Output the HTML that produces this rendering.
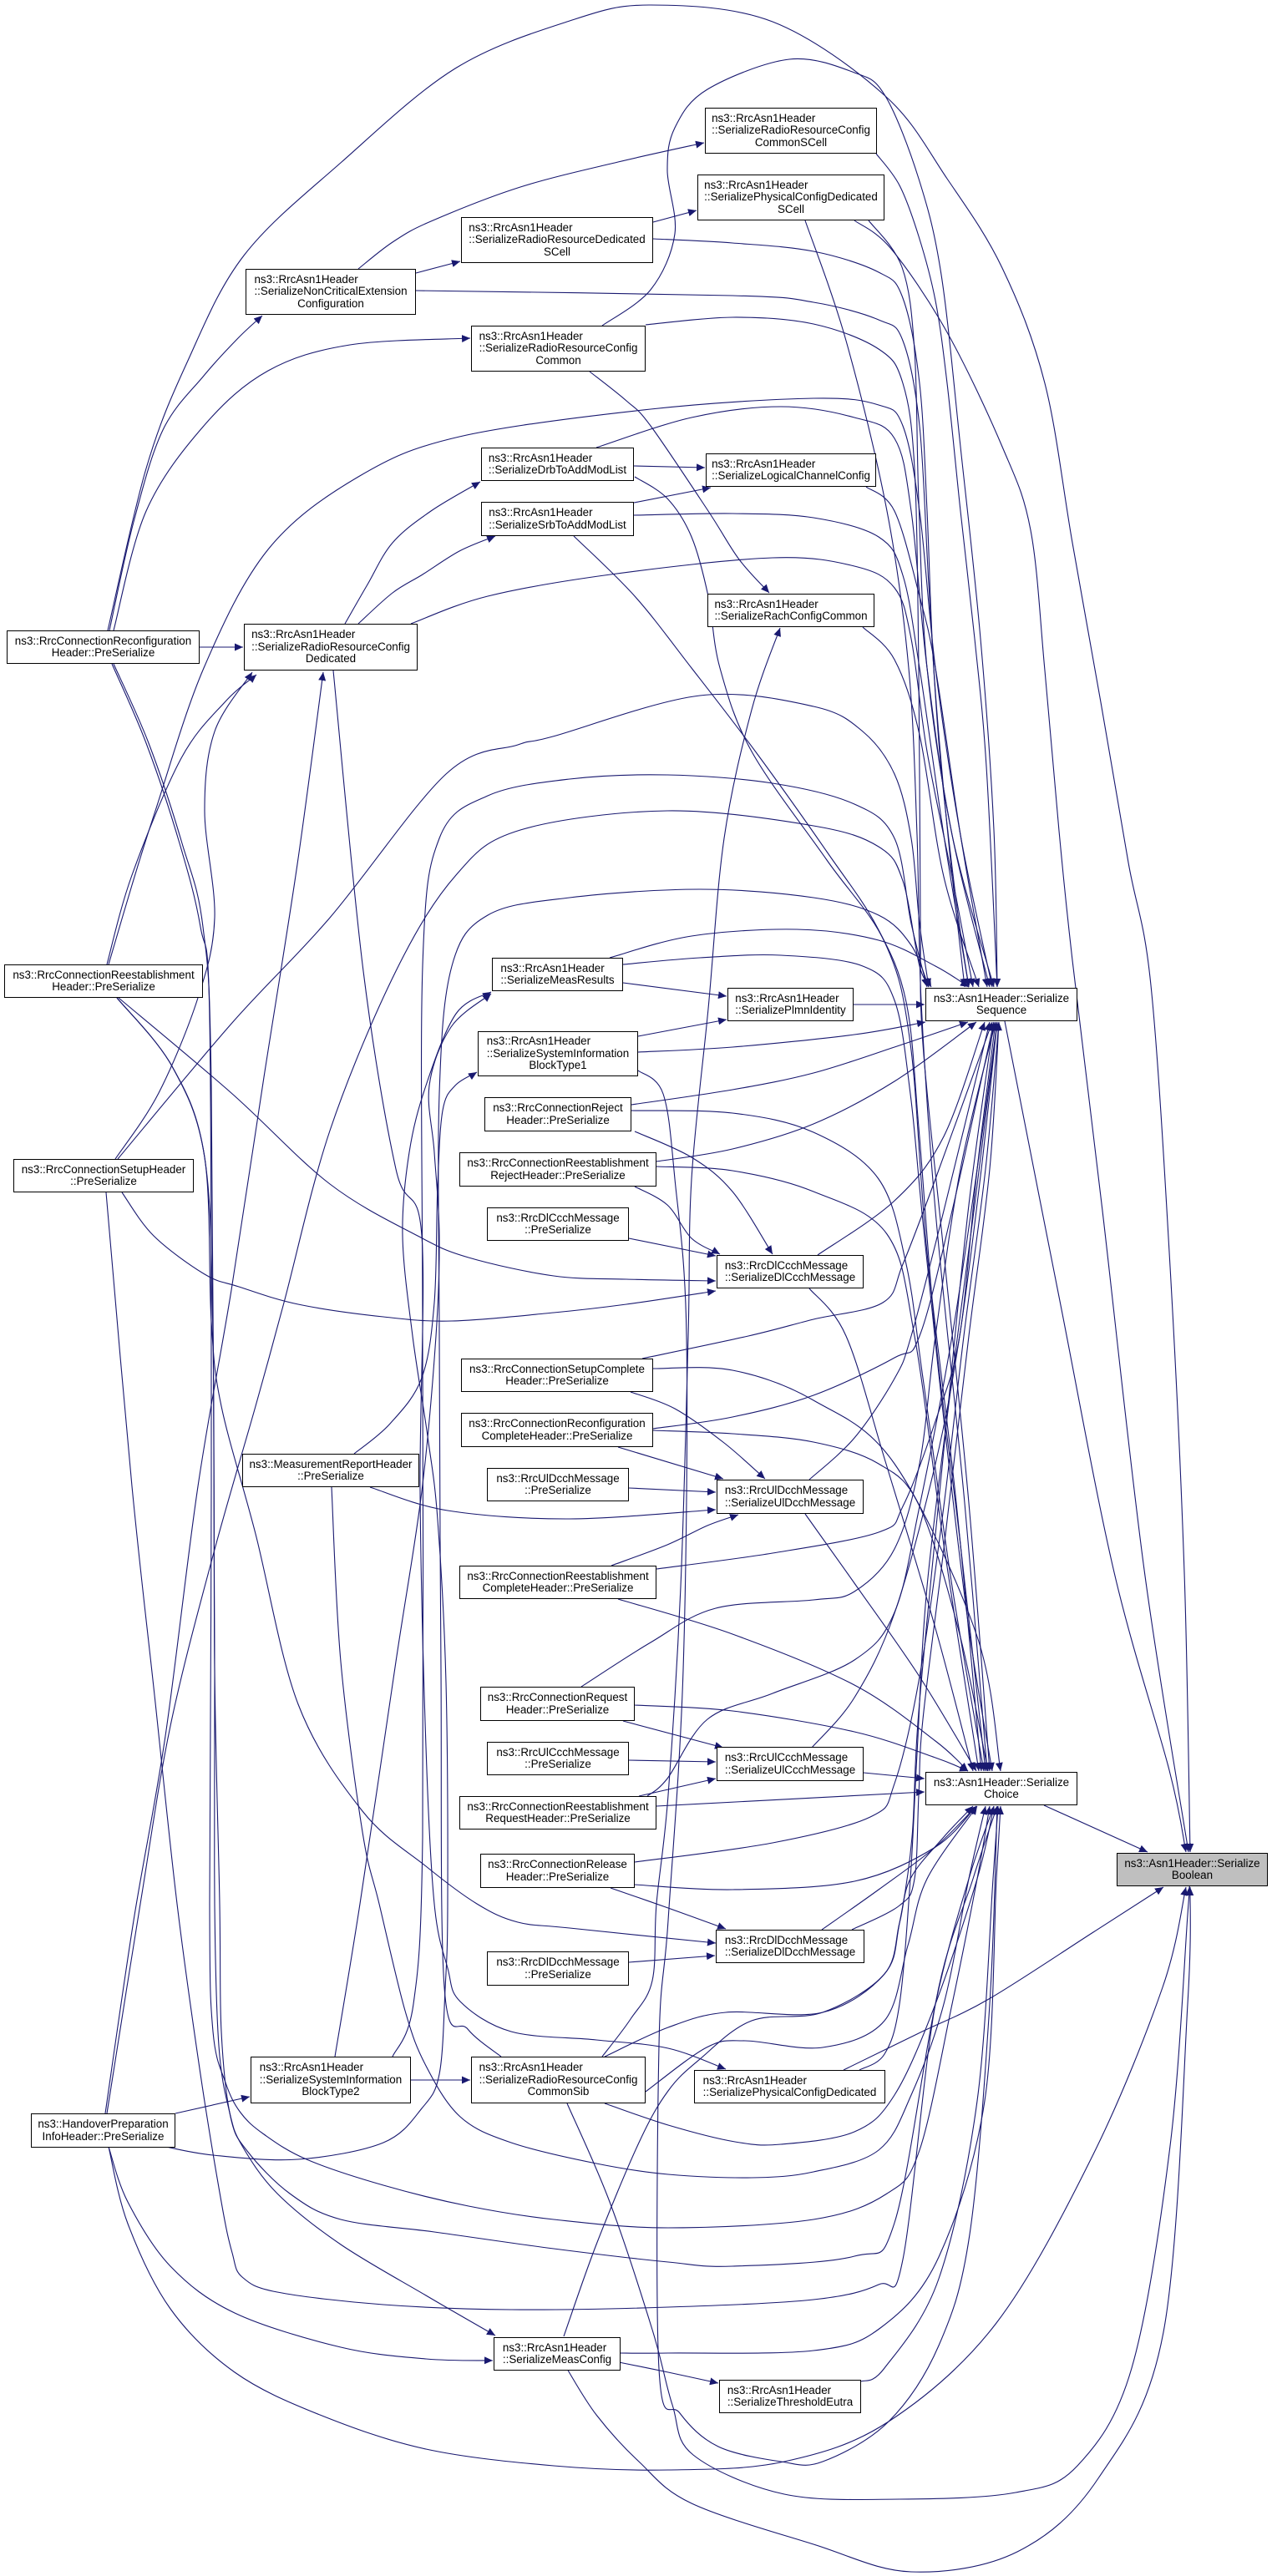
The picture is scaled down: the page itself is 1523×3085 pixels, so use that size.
<!DOCTYPE html>
<html><head><meta charset="utf-8"><style>
html,body{margin:0;padding:0;background:#fff}
#wrap{position:relative;width:1523px;height:3085px;overflow:hidden;background:#fff}
svg{position:absolute;left:0;top:0;z-index:0}
.n{position:absolute;box-sizing:border-box;border:1px solid #000;background:#fff;display:flex;align-items:center;justify-content:center;font-family:"Liberation Sans",Arial,Helvetica,sans-serif;font-size:13.4px;line-height:14.5px;color:#000;white-space:nowrap;z-index:1}
.n.g{background:#bfbfbf}
.t{display:inline-block}
.l{text-align:left}.c{text-align:center}
</style></head><body><div id="wrap">
<svg width="1523" height="3085" viewBox="0 0 1523 3085" xmlns="http://www.w3.org/2000/svg">
<defs><marker id="a" markerUnits="userSpaceOnUse" markerWidth="11" markerHeight="9" refX="10" refY="4.5" orient="auto"><path d="M0,0 L10,4.5 L0,9 z" fill="#191970"/></marker></defs>
<g fill="none" stroke="#191970" stroke-width="1.1" stroke-linejoin="round" marker-end="url(#a)">
<polyline points="239,775 291,775"/>
<polyline points="131,755 160,625 195,515 244,450 285,405 314,378"/>
<polyline points="136,755 175,612 244,510 321,444 419,413 563,405"/>
<polyline points="129,755 175,561 224,434 292,306 409,194 545,82 682,25 779,6 925,26 1060,115 1134,214 1200,321 1251,459 1284,650 1318,841 1351,1033 1378,1180 1401,1517 1418,1883 1425,2218"/>
<polyline points="498,327 551,313"/>
<polyline points="429,322 470,290 516,265 623,224 740,194 843,171"/>
<polyline points="498,348 877,354 974,362 1052,383 1081,408 1101,510 1112,700 1125,900 1145,1080 1160,1182"/>
<polyline points="782,266 834,252"/>
<polyline points="782,286 877,291 974,301 1052,326 1081,357 1101,459 1110,612 1118,800 1135,1000 1155,1182"/>
<polyline points="721,390 779,347 808,280 799,204 808,153 847,107 945,71 1023,87 1060,115 1100,214 1127,329 1150,535 1174,765 1190,994 1194,1182"/>
<polyline points="773,389 877,380 974,388 1052,418 1081,459 1095,561 1100,800 1102,1100 1105,1250 1130,1500 1160,1800 1185,2121"/>
<polyline points="706,445 750,480 779,510 848,612 885,670 921,710"/>
<polyline points="1049,184 1077,222 1100,283 1120,360 1134,459 1150,612 1167,765 1181,918 1194,1182"/>
<polyline points="1023,264 1067,298 1134,398 1200,535 1234,635 1251,803 1268,995 1284,1150 1320,1450 1370,1880 1423,2218"/>
<polyline points="964,264 1013,408 1062,612 1088,800 1098,1000 1103,1200 1120,1450 1155,1800 1182,2121"/>
<polyline points="1040,264 1080,320 1095,420 1100,600 1110,800 1140,1000 1185,1182"/>
<polyline points="130,1155 158,1060 186,971 244,800 321,658 429,571 550,523 779,490 974,477 1052,485 1081,510 1101,612 1120,800 1150,1000 1188,1182"/>
<polyline points="714,536 828,500 935,487 1023,500 1071,525 1091,612 1110,800 1140,1000 1190,1182"/>
<polyline points="759,558 844,560"/>
<polyline points="759,602 851,584"/>
<polyline points="760,571 799,597 828,643 848,714 862,800 900,900 990,1030 1060,1130 1090,1250 1110,1500 1145,1800 1175,2121"/>
<polyline points="759,617 877,615 974,620 1052,643 1081,689 1101,800 1130,1000 1160,1182"/>
<polyline points="687,642 760,714 828,800 906,902 990,1020 1050,1110 1085,1200 1100,1350 1120,1600 1150,1850 1180,2121"/>
<polyline points="413,747 440,700 470,650 516,612 575,577"/>
<polyline points="429,747 470,710 506,688 550,660 593,642"/>
<polyline points="492,747 584,714 731,688 925,668 1023,678 1071,704 1091,765 1110,900 1140,1050 1165,1182"/>
<polyline points="1037,583 1071,612 1101,714 1120,800 1150,1000 1182,1182"/>
<polyline points="1033,751 1071,790 1101,880 1130,1050 1172,1182"/>
<polyline points="721,2463 755,2418 781,2372 786,2280 800,2150 815,1900 824,1600 828,1412 848,1208 867,1004 900,850 934,752"/>
<polyline points="128,1155 158,1048 217,908 270,840 307,808"/>
<polyline points="138,1388 190,1309 237,1195 257,1099 245,971 257,876 302,805"/>
<polyline points="141,1388 277,1226 395,1099 534,927 620,892 662,882 838,833 974,846 1033,876 1071,927 1091,1004 1101,1106 1112,1182"/>
<polyline points="126,2531 160,2300 198,2079 237,1780 277,1545 316,1290 356,1035 387,805"/>
<polyline points="128,2531 168,2280 204,2067 255,1863 306,1684 340,1560 395,1354 474,1163 546,1048 623,994 799,971 974,989 1052,1014 1081,1055 1101,1157 1115,1182"/>
<polyline points="470,2463 495,2400 506,2200 506,1600 506,1157 526,1004 584,953 682,933 799,928 925,938 1023,963 1071,1004 1091,1106 1110,1182"/>
<polyline points="600,2463 560,2430 532,2380 528,2000 526,1600 526,1310 541,1157 584,1096 682,1075 838,1065 974,1075 1052,1096 1091,1132 1112,1182"/>
<polyline points="142,1195 277,1309 395,1418 500,1480 561,1506 663,1528 750,1532 857,1534"/>
<polyline points="146,1428 184,1480 245,1526 286,1541 357,1562 459,1577 541,1582 663,1572 750,1562 857,1546"/>
<polyline points="140,1195 206,1277 245,1386 253,1582 265,1684 306,1837 357,2041 434,2169 510,2235 571,2280 620,2302 682,2309 857,2327"/>
<polyline points="134,795 175,890 215,1010 240,1110 251,1220 253,1780 251,2280 255,2433 270,2494 288,2530 316,2556 367,2586 459,2617 561,2642 663,2658 800,2668 974,2658 1062,2627 1101,2575 1140,2400 1170,2250 1185,2163"/>
<polyline points="140,1195 206,1277 245,1386 255,1600 257,2000 263,2280 265,2433 276,2535 296,2576 347,2627 408,2658 520,2673 663,2693 800,2709 877,2714 1023,2702 1071,2662 1120,2400 1160,2250 1190,2163"/>
<polyline points="127,1428 158,1780 185,2030 212,2280 240,2484 265,2637 278,2698 290,2727 332,2745 459,2760 612,2766 800,2763 974,2754 1052,2736 1081,2706 1120,2400 1165,2250 1194,2163"/>
<polyline points="136,795 178,890 218,1010 243,1110 253,1300 257,2000 257,2280 262,2450 275,2530 290,2570 332,2627 408,2688 510,2749 593,2797"/>
<polyline points="443,1781 536,1809 682,1819 857,1808"/>
<polyline points="424,1741 467,1705 505,1650 520,1560 524,1420 530,1330 545,1300 571,1284"/>
<polyline points="194,2570 255,2581 357,2586 459,2566 505,2525 526,2484 533,2382 536,2280 534,2015 524,1820 512,1720 494,1600 482,1480 490,1380 510,1300 546,1214 588,1188"/>
<polyline points="399,803 435,1163 474,1400 505,1480 503,1786 510,2092 520,2280 536,2357 551,2397 612,2433 714,2443 800,2453 869,2478"/>
<polyline points="730,1147 828,1121 954,1113 1052,1126 1120,1157 1160,1182"/>
<polyline points="746,1155 838,1147 935,1144 1033,1157 1071,1198 1090,1310 1105,1463 1130,1700 1160,1950 1188,2121"/>
<polyline points="746,1177 870,1193"/>
<polyline points="1022,1203 1107,1203"/>
<polyline points="764,1241 870,1221"/>
<polyline points="764,1260 877,1254 1023,1239 1108,1224"/>
<polyline points="764,1282 794,1310 808,1412 822,1600 818,2000 800,2300 789,2450 789,2837 814,2890 860,2930 935,2948 985,2948 1064,2900 1124,2809 1161,2676 1185,2400 1194,2163"/>
<polyline points="756,1323 877,1305 974,1285 1071,1254 1159,1224"/>
<polyline points="756,1330 877,1333 974,1356 1052,1412 1085,1514 1105,1650 1140,1900 1178,2121"/>
<polyline points="760,1355 828,1386 877,1427 925,1502"/>
<polyline points="786,1391 877,1376 974,1346 1071,1295 1169,1224"/>
<polyline points="786,1397 877,1402 974,1427 1062,1478 1095,1600 1130,1850 1172,2121"/>
<polyline points="760,1421 799,1443 828,1483 862,1502"/>
<polyline points="753,1483 857,1504"/>
<polyline points="979,1503 1071,1438 1130,1361 1179,1224"/>
<polyline points="969,1543 1013,1600 1060,1750 1120,1950 1165,2121"/>
<polyline points="769,1627 896,1600 974,1580 1057,1560 1081,1514 1120,1412 1188,1224"/>
<polyline points="782,1639 877,1641 974,1677 1071,1753 1169,1957 1198,2121"/>
<polyline points="755,1667 808,1687 867,1728 916,1771"/>
<polyline points="782,1711 877,1697 974,1671 1071,1626 1101,1600 1140,1450 1190,1224"/>
<polyline points="782,1713 877,1717 974,1727 1052,1753 1101,1804 1149,1957 1183,2121"/>
<polyline points="740,1733 866,1771"/>
<polyline points="753,1782 857,1787"/>
<polyline points="732,1875 799,1850 847,1827 884,1814"/>
<polyline points="786,1879 925,1860 1052,1835 1081,1804 1120,1702 1149,1600 1170,1400 1192,1224"/>
<polyline points="740,1915 877,1957 1023,2018 1120,2085 1159,2121"/>
<polyline points="969,1772 1023,1722 1071,1651 1091,1600 1130,1450 1185,1224"/>
<polyline points="964,1813 1023,1896 1101,2008 1169,2121"/>
<polyline points="696,2020 779,1967 857,1926 974,1916 1023,1906 1071,1855 1101,1753 1120,1600 1150,1400 1192,1224"/>
<polyline points="760,2042 877,2049 1023,2074 1120,2105 1159,2121"/>
<polyline points="746,2061 866,2093"/>
<polyline points="753,2108 857,2110"/>
<polyline points="765,2151 857,2130"/>
<polyline points="775,2151 799,2130 847,2059 925,2028 1023,1988 1071,1931 1101,1804 1140,1600 1170,1400 1194,1224"/>
<polyline points="786,2163 1107,2146"/>
<polyline points="1034,2123 1107,2130"/>
<polyline points="972,2093 1023,2033 1071,1932 1120,1753 1149,1600 1175,1400 1194,1224"/>
<polyline points="760,2230 925,2207 1042,2176 1071,2136 1101,2008 1130,1804 1154,1600 1180,1400 1196,1224"/>
<polyline points="760,2257 877,2263 1023,2253 1120,2212 1169,2163"/>
<polyline points="731,2261 800,2285 869,2310"/>
<polyline points="753,2350 856,2342"/>
<polyline points="984,2311 1052,2263 1120,2212 1169,2163"/>
<polyline points="1020,2311 1077,2282 1095,2250 1100,2150 1105,2059 1130,1855 1160,1600 1185,1400 1196,1224"/>
<polyline points="1250,2162 1374,2218"/>
<polyline points="1203,1223 1268,1553 1334,1883 1400,2120 1420,2218"/>
<polyline points="1010,2479 1100,2435 1184,2394 1309,2314 1393,2260"/>
<polyline points="1029,2479 1059,2460 1077,2400 1090,2250 1098,2100 1110,1900 1140,1650 1167,1443 1194,1224"/>
<polyline points="1031,2852 1059,2836 1124,2729 1170,2516 1189,2250 1195,2163"/>
<polyline points="741,2829 800,2841 860,2854"/>
<polyline points="741,2818 800,2818 974,2815 1054,2788 1124,2703 1179,2516 1193,2250 1198,2163"/>
<polyline points="675,2798 714,2688 765,2566 800,2504 838,2466 900,2420 985,2410 1059,2364 1077,2303 1092,2200 1100,2050 1130,1737 1160,1443 1190,1224"/>
<polyline points="679,2837 714,2892 765,2948 828,2998 974,3047 1091,3080 1218,3056 1315,2968 1393,2793 1422,2400 1425,2260"/>
<polyline points="130,2571 153,2663 204,2765 281,2841 383,2892 510,2933 663,2953 800,2958 939,2948 1064,2900 1193,2782 1309,2580 1392,2380 1420,2260"/>
<polyline points="130,2571 153,2637 204,2714 281,2770 408,2811 510,2825 590,2827"/>
<polyline points="210,2531 299,2511"/>
<polyline points="492,2491 563,2491"/>
<polyline points="679,2519 730,2637 781,2790 805,2880 830,2940 939,2987 1077,2993 1216,2985 1290,2953 1355,2836 1401,2570 1422,2293 1424,2260"/>
<polyline points="724,2519 800,2545 880,2565 935,2568 1023,2553 1071,2509 1120,2400 1170,2250 1190,2163"/>
<polyline points="724,2463 800,2428 869,2410 985,2410 1059,2364 1077,2303 1090,2250 1130,2200 1165,2163"/>
<polyline points="773,2505 846,2452 892,2444 985,2452 1059,2420 1087,2330 1110,2250 1170,2163"/>
<polyline points="401,2463 431,2280 474,1990 505,1786 522,1600 526,1480 520,1380 514,1300 540,1230 588,1190"/>
<polyline points="397,1781 408,1990 434,2194 454,2280 485,2408 510,2474 551,2535 612,2566 714,2591 800,2604 900,2608 974,2601 1052,2575 1091,2509 1130,2400 1160,2250 1180,2163"/>
</g>
</svg>

<div class="n g" style="left:1337px;top:2219px;width:181px;height:40px"><div class="t"><div class="l">ns3::Asn1Header::Serialize</div><div class="c">Boolean</div></div></div>
<div class="n" style="left:1108px;top:1183px;width:182px;height:40px"><div class="t"><div class="l">ns3::Asn1Header::Serialize</div><div class="c">Sequence</div></div></div>
<div class="n" style="left:1108px;top:2122px;width:182px;height:40px"><div class="t"><div class="l">ns3::Asn1Header::Serialize</div><div class="c">Choice</div></div></div>
<div class="n" style="left:844px;top:129px;width:206px;height:55px"><div class="t"><div class="l">ns3::RrcAsn1Header</div><div class="l">::SerializeRadioResourceConfig</div><div class="c">CommonSCell</div></div></div>
<div class="n" style="left:835px;top:209px;width:224px;height:55px"><div class="t"><div class="l">ns3::RrcAsn1Header</div><div class="l">::SerializePhysicalConfigDedicated</div><div class="c">SCell</div></div></div>
<div class="n" style="left:552px;top:260px;width:230px;height:55px"><div class="t"><div class="l">ns3::RrcAsn1Header</div><div class="l">::SerializeRadioResourceDedicated</div><div class="c">SCell</div></div></div>
<div class="n" style="left:294px;top:322px;width:204px;height:55px"><div class="t"><div class="l">ns3::RrcAsn1Header</div><div class="l">::SerializeNonCriticalExtension</div><div class="c">Configuration</div></div></div>
<div class="n" style="left:564px;top:390px;width:209px;height:55px"><div class="t"><div class="l">ns3::RrcAsn1Header</div><div class="l">::SerializeRadioResourceConfig</div><div class="c">Common</div></div></div>
<div class="n" style="left:576px;top:536px;width:183px;height:40px"><div class="t"><div class="l">ns3::RrcAsn1Header</div><div class="c">::SerializeDrbToAddModList</div></div></div>
<div class="n" style="left:845px;top:543px;width:204px;height:40px"><div class="t"><div class="l">ns3::RrcAsn1Header</div><div class="c">::SerializeLogicalChannelConfig</div></div></div>
<div class="n" style="left:576px;top:601px;width:183px;height:41px"><div class="t"><div class="l">ns3::RrcAsn1Header</div><div class="c">::SerializeSrbToAddModList</div></div></div>
<div class="n" style="left:847px;top:711px;width:200px;height:40px"><div class="t"><div class="l">ns3::RrcAsn1Header</div><div class="c">::SerializeRachConfigCommon</div></div></div>
<div class="n" style="left:8px;top:755px;width:231px;height:40px"><div class="t"><div class="l">ns3::RrcConnectionReconfiguration</div><div class="c">Header::PreSerialize</div></div></div>
<div class="n" style="left:292px;top:747px;width:208px;height:56px"><div class="t"><div class="l">ns3::RrcAsn1Header</div><div class="l">::SerializeRadioResourceConfig</div><div class="c">Dedicated</div></div></div>
<div class="n" style="left:589px;top:1147px;width:157px;height:40px"><div class="t"><div class="l">ns3::RrcAsn1Header</div><div class="c">::SerializeMeasResults</div></div></div>
<div class="n" style="left:871px;top:1183px;width:151px;height:40px"><div class="t"><div class="l">ns3::RrcAsn1Header</div><div class="c">::SerializePlmnIdentity</div></div></div>
<div class="n" style="left:572px;top:1235px;width:192px;height:54px"><div class="t"><div class="l">ns3::RrcAsn1Header</div><div class="l">::SerializeSystemInformation</div><div class="c">BlockType1</div></div></div>
<div class="n" style="left:5px;top:1155px;width:238px;height:40px"><div class="t"><div class="l">ns3::RrcConnectionReestablishment</div><div class="c">Header::PreSerialize</div></div></div>
<div class="n" style="left:580px;top:1314px;width:176px;height:41px"><div class="t"><div class="l">ns3::RrcConnectionReject</div><div class="c">Header::PreSerialize</div></div></div>
<div class="n" style="left:550px;top:1380px;width:236px;height:41px"><div class="t"><div class="l">ns3::RrcConnectionReestablishment</div><div class="c">RejectHeader::PreSerialize</div></div></div>
<div class="n" style="left:16px;top:1388px;width:216px;height:40px"><div class="t"><div class="l">ns3::RrcConnectionSetupHeader</div><div class="c">::PreSerialize</div></div></div>
<div class="n" style="left:583px;top:1446px;width:170px;height:40px"><div class="t"><div class="l">ns3::RrcDlCcchMessage</div><div class="c">::PreSerialize</div></div></div>
<div class="n" style="left:858px;top:1503px;width:176px;height:40px"><div class="t"><div class="l">ns3::RrcDlCcchMessage</div><div class="c">::SerializeDlCcchMessage</div></div></div>
<div class="n" style="left:552px;top:1627px;width:230px;height:40px"><div class="t"><div class="l">ns3::RrcConnectionSetupComplete</div><div class="c">Header::PreSerialize</div></div></div>
<div class="n" style="left:552px;top:1692px;width:230px;height:41px"><div class="t"><div class="l">ns3::RrcConnectionReconfiguration</div><div class="c">CompleteHeader::PreSerialize</div></div></div>
<div class="n" style="left:290px;top:1741px;width:212px;height:40px"><div class="t"><div class="l">ns3::MeasurementReportHeader</div><div class="c">::PreSerialize</div></div></div>
<div class="n" style="left:583px;top:1758px;width:170px;height:40px"><div class="t"><div class="l">ns3::RrcUlDcchMessage</div><div class="c">::PreSerialize</div></div></div>
<div class="n" style="left:858px;top:1772px;width:176px;height:41px"><div class="t"><div class="l">ns3::RrcUlDcchMessage</div><div class="c">::SerializeUlDcchMessage</div></div></div>
<div class="n" style="left:550px;top:1875px;width:236px;height:40px"><div class="t"><div class="l">ns3::RrcConnectionReestablishment</div><div class="c">CompleteHeader::PreSerialize</div></div></div>
<div class="n" style="left:575px;top:2020px;width:185px;height:41px"><div class="t"><div class="l">ns3::RrcConnectionRequest</div><div class="c">Header::PreSerialize</div></div></div>
<div class="n" style="left:583px;top:2086px;width:170px;height:40px"><div class="t"><div class="l">ns3::RrcUlCcchMessage</div><div class="c">::PreSerialize</div></div></div>
<div class="n" style="left:858px;top:2092px;width:176px;height:41px"><div class="t"><div class="l">ns3::RrcUlCcchMessage</div><div class="c">::SerializeUlCcchMessage</div></div></div>
<div class="n" style="left:550px;top:2151px;width:236px;height:40px"><div class="t"><div class="l">ns3::RrcConnectionReestablishment</div><div class="c">RequestHeader::PreSerialize</div></div></div>
<div class="n" style="left:575px;top:2220px;width:185px;height:41px"><div class="t"><div class="l">ns3::RrcConnectionRelease</div><div class="c">Header::PreSerialize</div></div></div>
<div class="n" style="left:857px;top:2311px;width:178px;height:40px"><div class="t"><div class="l">ns3::RrcDlDcchMessage</div><div class="c">::SerializeDlDcchMessage</div></div></div>
<div class="n" style="left:583px;top:2337px;width:170px;height:41px"><div class="t"><div class="l">ns3::RrcDlDcchMessage</div><div class="c">::PreSerialize</div></div></div>
<div class="n" style="left:300px;top:2463px;width:192px;height:56px"><div class="t"><div class="l">ns3::RrcAsn1Header</div><div class="l">::SerializeSystemInformation</div><div class="c">BlockType2</div></div></div>
<div class="n" style="left:564px;top:2463px;width:209px;height:56px"><div class="t"><div class="l">ns3::RrcAsn1Header</div><div class="l">::SerializeRadioResourceConfig</div><div class="c">CommonSib</div></div></div>
<div class="n" style="left:831px;top:2479px;width:229px;height:40px"><div class="t"><div class="l">ns3::RrcAsn1Header</div><div class="c">::SerializePhysicalConfigDedicated</div></div></div>
<div class="n" style="left:37px;top:2531px;width:173px;height:41px"><div class="t"><div class="l">ns3::HandoverPreparation</div><div class="c">InfoHeader::PreSerialize</div></div></div>
<div class="n" style="left:591px;top:2799px;width:152px;height:40px"><div class="t"><div class="l">ns3::RrcAsn1Header</div><div class="c">::SerializeMeasConfig</div></div></div>
<div class="n" style="left:861px;top:2850px;width:170px;height:40px"><div class="t"><div class="l">ns3::RrcAsn1Header</div><div class="c">::SerializeThresholdEutra</div></div></div>
</div>
<script>
(function(){
var ns="http://www.w3.org/2000/svg";
var pls=document.querySelectorAll("polyline");
for(var k=0;k<pls.length;k++){
 var pl=pls[k];
 var p=pl.getAttribute("points").trim().split(/\s+/).map(function(s){return s.split(",").map(Number);});
 if(p.length<3)continue;
 var d="M"+p[0][0]+","+p[0][1];
 for(var i=0;i<p.length-1;i++){
  var p0=p[i-1]||p[i],p1=p[i],p2=p[i+1],p3=p[i+2]||p2;
  var c1x=p1[0]+(p2[0]-p0[0])/6,c1y=p1[1]+(p2[1]-p0[1])/6;
  var c2x=p2[0]-(p3[0]-p1[0])/6,c2y=p2[1]-(p3[1]-p1[1])/6;
  d+=" C"+c1x.toFixed(1)+","+c1y.toFixed(1)+" "+c2x.toFixed(1)+","+c2y.toFixed(1)+" "+p2[0]+","+p2[1];
 }
 var path=document.createElementNS(ns,"path");
 path.setAttribute("d",d);
 pl.parentNode.replaceChild(path,pl);
}
})();
</script>
</body></html>
